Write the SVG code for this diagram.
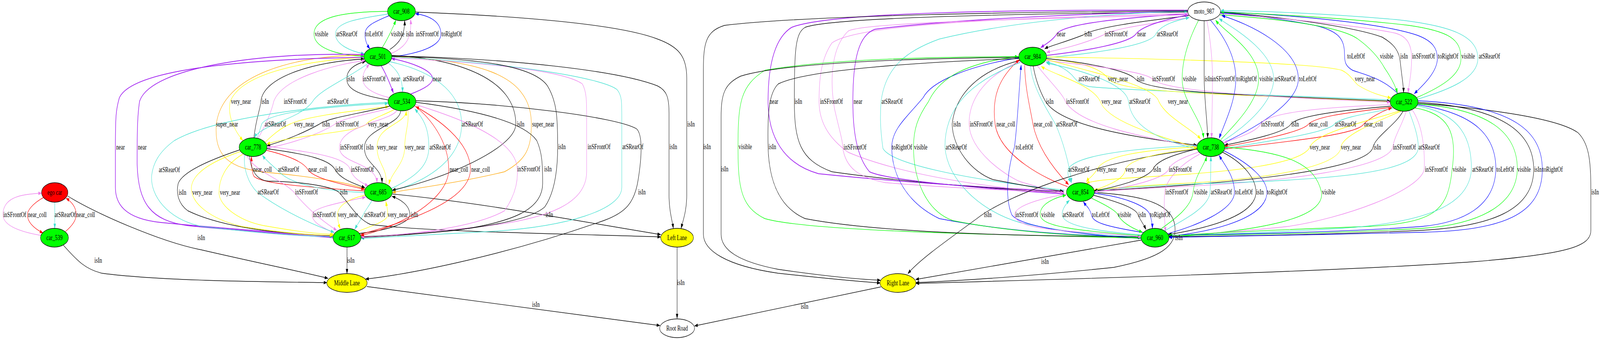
<svg xmlns="http://www.w3.org/2000/svg" width="5962" height="871" viewBox="0 0 5962 871" preserveAspectRatio="none">
<style>
svg{width:100vw;height:100vh;display:block}
text{font-family:"Liberation Serif","Times New Roman",serif;font-size:18.7px;text-anchor:middle;fill:#000}
.e path{fill:none;stroke-width:1.35}
.e .k{stroke:#000;marker-end:url(#mk)}
.e .r{stroke:#f00;marker-end:url(#mr)}
.e .g{stroke:#0f0;marker-end:url(#mg)}
.e .b{stroke:#00f;marker-end:url(#mb)}
.e .v{stroke:#ee82ee;marker-end:url(#mv)}
.e .p{stroke:#a020f0;stroke-width:2;marker-end:url(#mp)}
.e .t{stroke:#40e0d0;marker-end:url(#mt)}
.e .y{stroke:#ff0;marker-end:url(#my)}
.e .o{stroke:#ffa500;marker-end:url(#mo)}
.n ellipse{stroke:#000;stroke-width:1.35}
.cg{fill:#0f0}.cr{fill:#f00}.cy{fill:#ff0}.cw{fill:#fff}
</style>
<defs>
<marker id="mk" viewBox="0 0 13 9" refX="12" refY="4.5" markerWidth="13" markerHeight="9" orient="auto" markerUnits="userSpaceOnUse"><path d="M0,0L13,4.5L0,9z" fill="#000"/></marker>
<marker id="mr" viewBox="0 0 13 9" refX="12" refY="4.5" markerWidth="13" markerHeight="9" orient="auto" markerUnits="userSpaceOnUse"><path d="M0,0L13,4.5L0,9z" fill="#f00"/></marker>
<marker id="mg" viewBox="0 0 13 9" refX="12" refY="4.5" markerWidth="13" markerHeight="9" orient="auto" markerUnits="userSpaceOnUse"><path d="M0,0L13,4.5L0,9z" fill="#0f0"/></marker>
<marker id="mb" viewBox="0 0 13 9" refX="12" refY="4.5" markerWidth="13" markerHeight="9" orient="auto" markerUnits="userSpaceOnUse"><path d="M0,0L13,4.5L0,9z" fill="#00f"/></marker>
<marker id="mv" viewBox="0 0 13 9" refX="12" refY="4.5" markerWidth="13" markerHeight="9" orient="auto" markerUnits="userSpaceOnUse"><path d="M0,0L13,4.5L0,9z" fill="#ee82ee"/></marker>
<marker id="mp" viewBox="0 0 13 9" refX="12" refY="4.5" markerWidth="13" markerHeight="9" orient="auto" markerUnits="userSpaceOnUse"><path d="M0,0L13,4.5L0,9z" fill="#a020f0"/></marker>
<marker id="mt" viewBox="0 0 13 9" refX="12" refY="4.5" markerWidth="13" markerHeight="9" orient="auto" markerUnits="userSpaceOnUse"><path d="M0,0L13,4.5L0,9z" fill="#40e0d0"/></marker>
<marker id="my" viewBox="0 0 13 9" refX="12" refY="4.5" markerWidth="13" markerHeight="9" orient="auto" markerUnits="userSpaceOnUse"><path d="M0,0L13,4.5L0,9z" fill="#ff0"/></marker>
<marker id="mo" viewBox="0 0 13 9" refX="12" refY="4.5" markerWidth="13" markerHeight="9" orient="auto" markerUnits="userSpaceOnUse"><path d="M0,0L13,4.5L0,9z" fill="#ffa500"/></marker>
</defs>
<rect width="5962" height="871" fill="#fff"/>
<g id="connectors" class="e">
<path class="g" d="M1444,29 C1300,30 1170,40 1170,87 C1170,130 1290,143 1356,144"/>
<path class="t" d="M1446,36 C1350,46 1250,55 1250,87 C1250,115 1310,132 1358,138"/>
<path class="b" d="M1450,40 C1400,55 1360,65 1360,87 C1360,105 1368,115 1378,125"/>
<path class="g" d="M1424,122 C1440,105 1462,75 1475,52"/>
<path class="k" d="M1452,127 C1490,110 1508,90 1508,53"/>
<path class="v" d="M1458,137 C1515,120 1535,95 1530,50"/>
<path class="b" d="M1459,146 C1580,135 1643,115 1643,87 C1643,55 1600,40 1548,35"/>
<path class="k" d="M1447,256 C1350,245 1292,232 1292,202 C1292,175 1330,163 1362,157"/>
<path class="v" d="M1451,250 C1390,240 1352,225 1352,202 C1352,186 1364,175 1376,164"/>
<path class="p" d="M1420,168 C1435,185 1452,212 1466,238"/>
<path class="t" d="M1446,161 C1480,178 1500,200 1500,236"/>
<path class="p" d="M1530,241 C1580,228 1612,215 1612,202 C1612,178 1520,158 1459,150"/>
<path class="y" d="M1356,147 C1150,155 900,185 858,260 C845,300 880,340 905,360"/>
<path class="k" d="M946,353 C955,300 970,280 972,260 C980,200 1150,160 1357,151"/>
<path class="v" d="M962,354 C990,320 1010,290 1020,260 C1050,200 1250,165 1360,155"/>
<path class="t" d="M1372,162 C1300,200 1190,230 1165,260 C1120,305 970,320 948,353"/>
<path class="t" d="M958,354 C965,340 970,330 975,318 C1000,285 1250,272 1446,265"/>
<path class="y" d="M988,364 C1010,350 1040,330 1080,318 C1150,295 1350,282 1448,273"/>
<path class="k" d="M1452,272 C1350,290 1230,300 1190,318 C1120,345 1040,365 995,373"/>
<path class="v" d="M1456,277 C1350,295 1270,305 1248,318 C1180,348 1060,372 995,379"/>
<path class="y" d="M1468,281 C1420,298 1380,305 1365,318 C1330,340 1100,345 994,369"/>
<path class="o" d="M1356,141 C1100,142 830,190 806,318 C798,400 850,432 1000,442 C1200,455 1320,472 1360,485"/>
<path class="t" d="M1452,158 C1600,180 1720,230 1720,318 C1720,420 1560,470 1462,489"/>
<path class="k" d="M1460,142 C1700,150 1922,200 1922,318 C1922,380 1650,460 1462,487"/>
<path class="o" d="M1460,145 C1750,155 1980,180 1980,318 C1980,380 1960,410 1880,440 C1700,470 1520,485 1462,493"/>
<path class="v" d="M1480,282 C1460,310 1267,320 1265,377 C1262,420 1400,415 1405,468"/>
<path class="k" d="M1493,284 C1490,320 1360,330 1358,377 C1356,420 1420,425 1424,468"/>
<path class="y" d="M1438,471 C1445,430 1405,420 1405,377 C1405,320 1510,320 1514,284"/>
<path class="y" d="M1520,283 C1525,320 1508,340 1508,377 C1508,420 1460,440 1449,472"/>
<path class="t" d="M1458,483 C1560,450 1598,420 1598,377 C1598,320 1570,300 1546,279"/>
<path class="r" d="M1358,489 C1150,480 960,470 945,450 C938,440 937,420 937,401"/>
<path class="t" d="M1360,493 C1200,490 1080,470 1040,440 C1010,420 990,410 978,398"/>
<path class="r" d="M993,385 C1080,400 1130,415 1147,434 C1170,460 1300,475 1358,485"/>
<path class="k" d="M994,381 C1150,395 1230,410 1248,434 C1270,460 1320,470 1360,481"/>
<path class="v" d="M992,374 C1150,390 1290,400 1305,434 C1315,455 1340,466 1372,476"/>
<path class="v" d="M1248,598 C1200,582 1163,570 1163,550 C1163,530 1300,515 1362,505"/>
<path class="y" d="M1362,500 C1290,510 1258,530 1258,550 C1258,565 1262,576 1268,586"/>
<path class="t" d="M1386,514 C1370,532 1356,545 1352,552 C1342,566 1330,577 1322,587"/>
<path class="y" d="M1332,593 C1400,575 1445,565 1445,550 C1445,535 1440,525 1438,516"/>
<path class="k" d="M1338,598 C1450,590 1527,570 1527,550 C1527,525 1490,510 1461,503"/>
<path class="k" d="M1293,633 L1293,701"/>
<path class="k" d="M252,502 C350,545 600,620 750,640 C950,672 1150,700 1222,713"/>
<path class="k" d="M236,628 C290,670 320,690 380,700 C600,720 1000,722 1218,724"/>
<path class="r" d="M162,506 C120,522 102,540 102,550 C102,570 130,586 160,597"/>
<path class="t" d="M204,518 L204,585"/>
<path class="r" d="M244,593 C275,575 284,560 284,550 C284,530 265,516 246,508"/>
<path class="v" d="M152,603 C60,592 11,575 11,550 C11,505 80,497 155,495"/>
<path class="k" d="M1548,31 C1900,40 2300,60 2450,100 C2530,120 2559,145 2559,200 L2559,500 C2559,540 2545,565 2538,585"/>
<path class="k" d="M1460,143 C1900,150 2300,180 2450,220 C2485,232 2493,250 2493,290 L2493,500 C2493,540 2505,565 2509,585"/>
<path class="k" d="M1462,497 C1800,520 2100,560 2462,601"/>
<path class="k" d="M930,400 C935,440 960,462 1000,464 C1150,466 1240,480 1262,492 C1300,520 1330,560 1380,575 C1600,595 2200,600 2462,607"/>
<path class="p" d="M1356,147 C1000,150 500,170 445,250 C432,280 430,300 430,377 L430,480 C430,520 460,560 600,570 C900,590 1150,600 1241,606"/>
<path class="p" d="M1241,609 C1150,603 950,595 700,578 C560,565 515,520 511,420 C511,350 511,300 520,260 C560,170 1000,132 1357,140"/>
<path class="t" d="M1446,262 C1200,270 800,300 650,360 C590,390 570,420 565,450 C560,500 620,560 750,580 C1000,600 1150,606 1241,606"/>
<path class="k" d="M893,384 C780,410 680,440 664,470 C657,490 660,520 700,540 C850,590 1100,600 1241,604"/>
<path class="y" d="M897,388 C780,415 718,445 713,480 C711,520 780,560 900,580 C1050,597 1150,602 1241,603"/>
<path class="y" d="M905,395 C840,420 816,460 816,493 C816,530 900,570 1000,580 C1100,592 1180,600 1243,600"/>
<path class="t" d="M912,396 C905,430 925,470 958,492 C1050,540 1180,580 1245,595"/>
<path class="v" d="M920,399 C950,440 1050,460 1095,492 C1150,540 1220,575 1255,590"/>
<path class="v" d="M1460,148 C1800,160 2100,180 2170,215 C2186,235 2186,260 2186,300 L2186,440 C2186,520 2050,560 1800,580 C1600,595 1400,605 1345,609"/>
<path class="t" d="M1460,146 C1900,160 2250,200 2300,230 C2317,245 2317,260 2317,300 L2317,480 C2317,540 2100,580 1850,592 C1600,600 1400,608 1345,611"/>
<path class="k" d="M1460,144 C1800,150 1990,170 2040,220 C2075,260 2078,300 2078,376 C2078,450 2060,500 2030,530 C1950,580 1600,600 1345,606"/>
<path class="k" d="M1550,262 C1750,280 1950,310 2000,360 C2020,390 2022,420 2022,470 C2022,540 1900,570 1700,590 C1500,603 1400,607 1345,608"/>
<path class="v" d="M1549,268 C1700,300 1900,350 1925,420 C1935,460 1920,500 1880,540 C1750,590 1450,605 1345,607"/>
<path class="r" d="M1545,271 C1600,300 1672,360 1672,434 C1672,520 1450,590 1344,603"/>
<path class="r" d="M1344,600 C1480,575 1753,520 1753,434 C1753,360 1620,300 1549,273"/>
<path class="k" d="M1550,258 C1900,265 2300,300 2372,330 C2395,345 2392,400 2378,460 C2365,520 2330,545 2250,565 C1900,650 1550,700 1362,715"/>
<path class="k" d="M1367,734 L2459,834"/>
<path class="k" d="M2523,633 L2523,816"/>
<path class="k" d="M3282,735 L2588,835"/>
<path class="p" d="M4427,35 C4200,45 3960,60 3938,87 C3920,105 3892,115 3878,122"/>
<path class="k" d="M4430,40 C4250,55 4080,70 4035,90 C3960,110 3910,118 3893,125"/>
<path class="v" d="M4432,45 C4300,60 4150,72 4110,90 C4030,115 3940,128 3900,134"/>
<path class="p" d="M3900,142 C4050,130 4210,110 4233,87 C4260,62 4380,45 4428,38"/>
<path class="t" d="M3899,148 C4100,135 4290,115 4307,87 C4330,60 4400,50 4431,45"/>
<path class="t" d="M5182,256 C4800,245 4200,232 4060,222 C4025,217 4012,207 3994,192 C3965,172 3925,162 3898,159"/>
<path class="y" d="M3898,150 C4050,160 4110,180 4129,202 C4160,225 4300,232 4500,240 C4800,250 5100,257 5181,260"/>
<path class="y" d="M3900,146 C4300,150 4900,160 5000,180 C5030,190 5040,205 5060,218 C5110,240 5160,247 5183,251"/>
<path class="k" d="M3899,150 C4050,160 4200,180 4230,202 C4270,230 4500,240 4800,248 C5000,253 5130,257 5180,259"/>
<path class="v" d="M3897,155 C4100,170 4270,185 4293,202 C4330,230 4600,245 5181,262"/>
<path class="b" d="M5208,239 C5150,200 5080,190 5040,180 C5015,170 5010,160 5010,140 C5010,100 4990,80 4900,65 C4750,45 4620,36 4548,33"/>
<path class="g" d="M4545,38 C4800,50 5000,70 5060,100 C5110,125 5140,150 5160,175 C5185,200 5200,220 5207,238"/>
<path class="k" d="M4548,31 C4800,45 5050,70 5150,95 C5200,115 5215,135 5218,160 C5224,200 5230,220 5230,237"/>
<path class="v" d="M4548,35 C4850,50 5100,70 5200,85 C5250,95 5260,120 5260,150 C5260,190 5250,215 5247,238"/>
<path class="b" d="M4547,30 C4850,40 5150,60 5280,90 C5340,105 5356,125 5356,150 C5356,185 5300,220 5270,240"/>
<path class="g" d="M5279,250 C5380,220 5444,190 5444,150 C5444,100 5400,80 5250,65 C5000,45 4700,35 4549,31"/>
<path class="t" d="M5282,254 C5400,230 5507,200 5507,150 C5507,90 5400,65 5200,50 C4950,35 4700,28 4549,27"/>
<path class="g" d="M4466,52 C4430,100 4405,150 4405,202 C4405,260 4475,300 4485,353"/>
<path class="k" d="M4487,53 L4487,202 C4488,260 4500,320 4500,353"/>
<path class="v" d="M4497,52 C4510,100 4518,150 4518,202 C4518,270 4515,320 4515,353"/>
<path class="b" d="M4511,52 C4570,100 4605,150 4605,202 C4605,260 4560,320 4543,354"/>
<path class="g" d="M4549,358 C4600,320 4690,260 4690,202 C4690,130 4560,80 4530,52"/>
<path class="t" d="M4555,362 C4650,320 4746,260 4746,202 C4746,130 4590,70 4543,48"/>
<path class="b" d="M4560,366 C4700,320 4838,260 4838,202 C4838,120 4650,60 4553,40"/>
<path class="k" d="M3850,169 C3860,210 3880,240 3896,260 C3950,320 4200,350 4460,372"/>
<path class="v" d="M3865,168 C3900,200 3960,240 3970,260 C4020,320 4250,350 4461,376"/>
<path class="y" d="M4462,379 C4300,345 4125,310 4100,260 C4070,215 3920,190 3880,170"/>
<path class="t" d="M4463,383 C4300,355 4215,320 4205,260 C4195,210 4000,175 3900,162"/>
<path class="y" d="M3897,152 C4100,190 4300,220 4318,260 C4345,300 4440,330 4474,356"/>
<path class="p" d="M4426,26 C3800,25 3100,30 2950,70 C2880,100 2862,180 2862,260 C2862,350 2920,420 3050,445 C3400,470 3800,485 3964,490"/>
<path class="k" d="M4426,31 C3800,35 3100,45 3000,70 C2965,85 2960,120 2960,260 C2960,360 2980,410 3100,440 C3400,470 3800,487 3964,493"/>
<path class="v" d="M4427,35 C3800,45 3200,60 3100,110 C3060,150 3052,200 3052,260 C3052,320 3100,360 3160,390 C3400,460 3800,488 3964,495"/>
<path class="p" d="M3965,497 C3600,480 3300,460 3240,440 C3190,400 3178,330 3178,260 C3178,150 3200,90 3260,75 C3600,45 4200,32 4426,29"/>
<path class="t" d="M3966,487 C3600,460 3320,420 3290,380 C3280,330 3279,300 3283,260 C3300,170 3380,130 3500,100 C3800,50 4200,32 4425,29"/>
<path class="v" d="M4427,38 C3700,50 3200,60 3160,80 C3100,120 3090,200 3110,280 C3130,340 3140,360 3140,377 C3150,430 3200,455 3300,468 C3600,485 3850,490 3963,493"/>
<path class="k" d="M3800,155 C3650,180 3560,240 3548,318 C3550,380 3620,440 3700,460 C3850,480 3930,488 3962,490"/>
<path class="v" d="M3801,158 C3680,190 3610,250 3611,318 C3615,390 3750,450 3800,465 C3880,482 3930,490 3963,494"/>
<path class="r" d="M3978,478 C3900,460 3725,400 3708,318 C3695,250 3720,200 3798,153"/>
<path class="r" d="M3818,167 C3820,230 3840,280 3849,318 C3870,390 3950,450 3982,473"/>
<path class="t" d="M3840,169 C3845,220 3900,280 3933,318 C3960,360 3985,420 3993,468"/>
<path class="b" d="M3798,148 C3600,170 3470,210 3440,250 C3380,300 3323,330 3323,377 C3323,450 3380,520 3500,560 C3800,600 4100,605 4252,607"/>
<path class="g" d="M3797,145 C3600,160 3500,200 3460,260 C3420,300 3404,330 3404,377 C3404,460 3450,540 3550,565 C3800,600 4100,606 4252,609"/>
<path class="t" d="M3802,160 C3650,200 3520,260 3521,377 C3530,460 3650,540 3800,570 C4000,600 4150,605 4253,606"/>
<path class="b" d="M4252,611 C4000,600 3800,580 3770,550 C3740,500 3760,420 3780,377 C3790,330 3795,250 3805,167"/>
<path class="g" d="M4252,610 C3600,600 3000,590 2850,560 C2760,530 2750,480 2750,376 C2750,260 2760,220 2850,180 C3100,150 3500,146 3794,145"/>
<path class="k" d="M3796,150 C3400,160 3000,180 2900,215 C2862,240 2860,300 2862,376 C2865,460 2900,530 3000,560 C3300,600 3900,605 4252,607"/>
<path class="k" d="M4426,28 C3800,30 3000,40 2700,65 C2630,80 2621,110 2621,180 L2621,600 C2621,640 2700,680 2900,700 C3100,715 3220,722 3280,725"/>
<path class="k" d="M3796,147 C3300,150 2900,165 2760,195 C2700,215 2687,240 2687,300 L2687,600 C2687,640 2750,670 2900,690 C3100,710 3220,716 3281,718"/>
<path class="k" d="M4462,382 C4100,410 3750,500 3640,560 C3500,630 3420,670 3383,701"/>
<path class="k" d="M4078,493 C4250,500 4370,520 4378,580 C4385,630 4330,660 4150,685 C3800,710 3550,720 3413,724"/>
<path class="k" d="M4253,615 L3412,716"/>
<path class="k" d="M5283,265 C5500,275 5800,300 5880,340 C5925,370 5928,420 5928,500 L5928,590 C5928,630 5850,650 5500,670 C5000,695 4000,715 3413,726"/>
<path class="v" d="M5183,268 C4900,275 4720,290 4697,318 C4680,340 4600,355 4560,366"/>
<path class="k" d="M5183,272 C4950,285 4830,300 4810,318 C4790,340 4650,360 4563,372"/>
<path class="r" d="M5185,275 C5000,290 4900,300 4876,318 C4850,340 4650,365 4563,376"/>
<path class="t" d="M5190,278 C5050,295 4990,305 4972,318 C4950,340 4700,365 4563,380"/>
<path class="r" d="M4563,382 C4800,362 5060,345 5081,318 C5108,300 5150,285 5186,276"/>
<path class="y" d="M5215,284 C5100,310 4900,340 4881,377 C4850,420 4600,440 4300,452 C4150,458 4070,462 4048,470"/>
<path class="y" d="M5220,285 C5100,320 5000,350 4997,377 C4990,430 4700,460 4400,470 C4200,478 4100,485 4076,487"/>
<path class="k" d="M5228,285 C5200,320 5125,350 5116,377 C5100,430 4700,460 4400,475 C4200,485 4100,488 4077,489"/>
<path class="v" d="M5240,285 C5225,320 5195,350 5190,377 C5170,430 4800,465 4400,478 C4200,485 4100,490 4078,491"/>
<path class="t" d="M5250,284 C5270,320 5285,350 5285,377 C5285,440 5000,460 4500,470 C4250,476 4130,484 4079,488"/>
<path class="t" d="M4461,373 C4200,380 4000,400 3980,434 C3977,450 3985,460 3990,467"/>
<path class="y" d="M4462,376 C4250,385 4110,400 4088,434 C4075,450 4055,458 4048,466"/>
<path class="y" d="M4076,488 C4150,470 4190,455 4194,434 C4210,400 4400,385 4462,380"/>
<path class="k" d="M4462,381 C4380,395 4310,410 4296,434 C4270,460 4150,480 4077,489"/>
<path class="v" d="M4465,390 C4400,405 4360,420 4355,434 C4330,465 4150,485 4078,492"/>
<path class="v" d="M4470,395 C4400,420 4345,460 4340,492 C4336,530 4340,570 4343,594"/>
<path class="g" d="M4325,587 C4380,560 4440,530 4446,492 C4452,450 4490,420 4496,401"/>
<path class="t" d="M4335,593 C4420,560 4505,530 4509,492 C4512,450 4512,420 4512,401"/>
<path class="b" d="M4345,600 C4450,580 4600,540 4600,492 C4600,450 4560,420 4543,398"/>
<path class="k" d="M4556,390 C4640,420 4680,460 4680,492 C4680,560 4450,590 4354,601"/>
<path class="b" d="M4560,386 C4660,420 4721,460 4721,492 C4721,570 4450,600 4355,605"/>
<path class="g" d="M4564,377 C4800,390 4900,420 4924,492 C4940,560 4700,590 4356,608"/>
<path class="v" d="M5262,281 C5300,320 5310,380 5307,434 C5290,490 5000,560 4800,580 C4600,595 4450,600 4356,606"/>
<path class="g" d="M5268,276 C5400,290 5430,340 5411,434 C5395,540 5350,570 5100,580 C4700,590 4450,600 4356,604"/>
<path class="t" d="M5272,270 C5450,290 5483,360 5483,434 C5475,530 5300,570 5000,585 C4700,597 4450,602 4356,603"/>
<path class="b" d="M5280,268 C5500,290 5575,350 5574,434 C5570,530 5450,570 5300,580 C5000,595 4600,600 4355,603"/>
<path class="g" d="M5281,266 C5550,280 5655,340 5654,434 C5650,530 5500,575 5300,585 C5000,597 4600,602 4355,603"/>
<path class="k" d="M5282,262 C5600,275 5715,340 5715,434 C5715,540 5550,580 5300,590 C5000,600 4600,605 4355,606"/>
<path class="b" d="M5282,258 C5650,270 5747,340 5747,434 C5747,550 5600,590 5300,595 C5000,600 4600,606 4355,608"/>
<path class="v" d="M3975,497 C3860,510 3781,530 3781,550 C3781,580 3900,590 4100,598 C4200,602 4230,605 4253,607"/>
<path class="g" d="M4254,604 C4000,590 3878,580 3876,550 C3874,520 3940,505 3972,500"/>
<path class="t" d="M4255,602 C4050,590 3960,575 3958,550 C3957,535 3975,520 3985,513"/>
<path class="b" d="M4262,596 C4120,580 4070,570 4067,550 C4062,535 4045,525 4037,517"/>
<path class="g" d="M4068,508 C4120,525 4160,540 4165,550 C4180,570 4220,585 4257,595"/>
<path class="k" d="M4074,500 C4180,520 4235,535 4240,550 C4250,565 4262,575 4270,588"/>
<path class="b" d="M4076,495 C4200,505 4275,530 4285,550 C4292,565 4294,575 4294,585"/>
<text x="1198" y="93">visible</text>
<text x="1292" y="93">atSRearOf</text>
<text x="1394" y="93">toLeftOf</text>
<text x="1482" y="93">visible</text>
<text x="1527" y="93">isIn</text>
<text x="1592" y="93">inSFrontOf</text>
<text x="1683" y="93">toRightOf</text>
<text x="1308" y="208">isIn</text>
<text x="1394" y="208">inSFrontOf</text>
<text x="1474" y="208">near</text>
<text x="1541" y="208">atSRearOf</text>
<text x="1629" y="208">near</text>
<text x="898" y="266">very_near</text>
<text x="988" y="266">isIn</text>
<text x="1100" y="266">inSFrontOf</text>
<text x="1259" y="266">atSRearOf</text>
<text x="1026" y="324">atSRearOf</text>
<text x="1133" y="324">very_near</text>
<text x="1215" y="324">isIn</text>
<text x="1294" y="324">inSFrontOf</text>
<text x="1409" y="324">very_near</text>
<text x="846" y="324">super_near</text>
<text x="1760" y="324">atSRearOf</text>
<text x="1940" y="324">isIn</text>
<text x="2024" y="324">super_near</text>
<text x="2575" y="324">isIn</text>
<text x="449" y="383">near</text>
<text x="530" y="383">near</text>
<text x="1310" y="383">inSFrontOf</text>
<text x="1378" y="383">isIn</text>
<text x="1443" y="383">very_near</text>
<text x="1546" y="383">very_near</text>
<text x="1640" y="383">atSRearOf</text>
<text x="2094" y="382">isIn</text>
<text x="2232" y="382">inSFrontOf</text>
<text x="2358" y="382">atSRearOf</text>
<text x="2509" y="382">isIn</text>
<text x="631" y="441">atSRearOf</text>
<text x="978" y="440">near_coll</text>
<text x="1075" y="440">atSRearOf</text>
<text x="1184" y="440">near_coll</text>
<text x="1264" y="440">isIn</text>
<text x="1350" y="440">inSFrontOf</text>
<text x="1710" y="440">near_coll</text>
<text x="1791" y="440">near_coll</text>
<text x="1970" y="439">inSFrontOf</text>
<text x="2042" y="439">isIn</text>
<text x="680" y="499">isIn</text>
<text x="754" y="499">very_near</text>
<text x="857" y="499">very_near</text>
<text x="999" y="498">atSRearOf</text>
<text x="1142" y="498">inSFrontOf</text>
<text x="1281" y="498">isIn</text>
<text x="2392" y="498">isIn</text>
<text x="55" y="556">inSFrontOf</text>
<text x="139" y="556">near_coll</text>
<text x="243" y="556">atSRearOf</text>
<text x="319" y="556">near_coll</text>
<text x="1208" y="556">inSFrontOf</text>
<text x="1296" y="556">very_near</text>
<text x="1396" y="556">atSRearOf</text>
<text x="1482" y="556">very_near</text>
<text x="1544" y="556">isIn</text>
<text x="2047" y="556">isIn</text>
<text x="750" y="615">isIn</text>
<text x="366" y="673">isIn</text>
<text x="1307" y="673">isIn</text>
<text x="2537" y="730">isIn</text>
<text x="1997" y="786">isIn</text>
<text x="2998" y="791">isIn</text>
<text x="3954" y="93">near</text>
<text x="4055" y="93">isIn</text>
<text x="4159" y="93">inSFrontOf</text>
<text x="4254" y="93">near</text>
<text x="4350" y="93">atSRearOf</text>
<text x="5053" y="150">toLeftOf</text>
<text x="5167" y="150">visible</text>
<text x="5232" y="150">isIn</text>
<text x="5304" y="150">inSFrontOf</text>
<text x="5396" y="150">toRightOf</text>
<text x="5471" y="150">visible</text>
<text x="5550" y="150">atSRearOf</text>
<text x="4058" y="208">atSRearOf</text>
<text x="4166" y="208">very_near</text>
<text x="4250" y="208">isIn</text>
<text x="4336" y="208">inSFrontOf</text>
<text x="4433" y="208">visible</text>
<text x="4503" y="208">isIn</text>
<text x="4559" y="208">inSFrontOf</text>
<text x="4645" y="208">toRightOf</text>
<text x="4718" y="208">visible</text>
<text x="4788" y="208">atSRearOf</text>
<text x="4873" y="208">toLeftOf</text>
<text x="5086" y="208">very_near</text>
<text x="2884" y="266">near</text>
<text x="2975" y="266">isIn</text>
<text x="3098" y="266">inSFrontOf</text>
<text x="3197" y="266">near</text>
<text x="3324" y="266">atSRearOf</text>
<text x="3912" y="266">isIn</text>
<text x="4015" y="266">inSFrontOf</text>
<text x="4142" y="266">very_near</text>
<text x="4247" y="266">atSRearOf</text>
<text x="4389" y="266">very_near</text>
<text x="3566" y="324">isIn</text>
<text x="3656" y="324">inSFrontOf</text>
<text x="3748" y="324">near_coll</text>
<text x="3887" y="324">near_coll</text>
<text x="3975" y="324">atSRearOf</text>
<text x="4742" y="324">inSFrontOf</text>
<text x="4826" y="324">isIn</text>
<text x="4913" y="324">near_coll</text>
<text x="5014" y="324">atSRearOf</text>
<text x="5118" y="324">near_coll</text>
<text x="2635" y="382">isIn</text>
<text x="2777" y="382">visible</text>
<text x="2878" y="382">isIn</text>
<text x="3186" y="383">inSFrontOf</text>
<text x="3361" y="383">toRightOf</text>
<text x="3431" y="383">visible</text>
<text x="3563" y="383">atSRearOf</text>
<text x="3817" y="383">toLeftOf</text>
<text x="4918" y="383">very_near</text>
<text x="5034" y="383">very_near</text>
<text x="5132" y="383">isIn</text>
<text x="5233" y="383">inSFrontOf</text>
<text x="5325" y="383">atSRearOf</text>
<text x="2700" y="439">isIn</text>
<text x="4020" y="440">atSRearOf</text>
<text x="4124" y="440">very_near</text>
<text x="4231" y="440">very_near</text>
<text x="4312" y="440">isIn</text>
<text x="4398" y="440">inSFrontOf</text>
<text x="5352" y="440">inSFrontOf</text>
<text x="5438" y="440">visible</text>
<text x="5525" y="440">atSRearOf</text>
<text x="5609" y="440">toLeftOf</text>
<text x="5679" y="440">visible</text>
<text x="5731" y="440">isIn</text>
<text x="5785" y="440">toRightOf</text>
<text x="4385" y="498">inSFrontOf</text>
<text x="4474" y="498">visible</text>
<text x="4551" y="498">atSRearOf</text>
<text x="4635" y="498">toLeftOf</text>
<text x="4695" y="498">isIn</text>
<text x="4759" y="498">toRightOf</text>
<text x="4951" y="498">visible</text>
<text x="5944" y="498">isIn</text>
<text x="3681" y="556">isIn</text>
<text x="3826" y="556">inSFrontOf</text>
<text x="3905" y="556">visible</text>
<text x="3999" y="556">atSRearOf</text>
<text x="4102" y="556">toLeftOf</text>
<text x="4190" y="556">visible</text>
<text x="4256" y="556">isIn</text>
<text x="4323" y="556">toRightOf</text>
<text x="4393" y="615">isIn</text>
<text x="3894" y="676">isIn</text>
</g>
<g id="node-ego_car" class="n"><ellipse cx="204" cy="493" rx="49" ry="25" class="cr"/><text x="204" y="499">ego car</text></g>
<g id="node-car_539" class="n"><ellipse cx="203" cy="609" rx="52" ry="24" class="cg"/><text x="203" y="615">car_539</text></g>
<g id="node-car_908" class="n"><ellipse cx="1496" cy="29" rx="52" ry="24" class="cg"/><text x="1496" y="35">car_908</text></g>
<g id="node-car_501" class="n"><ellipse cx="1408" cy="145" rx="52" ry="24" class="cg"/><text x="1408" y="151">car_501</text></g>
<g id="node-car_534" class="n"><ellipse cx="1498" cy="260" rx="52" ry="24" class="cg"/><text x="1498" y="266">car_534</text></g>
<g id="node-car_778" class="n"><ellipse cx="943" cy="377" rx="52" ry="24" class="cg"/><text x="943" y="383">car_778</text></g>
<g id="node-car_685" class="n"><ellipse cx="1410" cy="492" rx="52" ry="24" class="cg"/><text x="1410" y="498">car_685</text></g>
<g id="node-car_617" class="n"><ellipse cx="1293" cy="609" rx="52" ry="24" class="cg"/><text x="1293" y="615">car_617</text></g>
<g id="node-middle_lane" class="n"><ellipse cx="1293" cy="725" rx="75" ry="24" class="cy"/><text x="1293" y="731">Middle Lane</text></g>
<g id="node-left_lane" class="n"><ellipse cx="2523" cy="609" rx="61" ry="24" class="cy"/><text x="2523" y="615">Left Lane</text></g>
<g id="node-root_road" class="n"><ellipse cx="2523" cy="841" rx="65" ry="24" class="cw"/><text x="2523" y="847">Root Road</text></g>
<g id="node-right_lane" class="n"><ellipse cx="3346" cy="725" rx="67" ry="24" class="cy"/><text x="3346" y="731">Right Lane</text></g>
<g id="node-moto_987" class="n"><ellipse cx="4487" cy="29" rx="61" ry="24" class="cw"/><text x="4487" y="35">moto_987</text></g>
<g id="node-car_984" class="n"><ellipse cx="3848" cy="145" rx="52" ry="24" class="cg"/><text x="3848" y="151">car_984</text></g>
<g id="node-car_522" class="n"><ellipse cx="5232" cy="261" rx="52" ry="24" class="cg"/><text x="5232" y="267">car_522</text></g>
<g id="node-car_738" class="n"><ellipse cx="4512" cy="377" rx="52" ry="24" class="cg"/><text x="4512" y="383">car_738</text></g>
<g id="node-car_854" class="n"><ellipse cx="4026" cy="492" rx="52" ry="24" class="cg"/><text x="4026" y="498">car_854</text></g>
<g id="node-car_960" class="n"><ellipse cx="4304" cy="609" rx="52" ry="24" class="cg"/><text x="4304" y="615">car_960</text></g>
</svg>
